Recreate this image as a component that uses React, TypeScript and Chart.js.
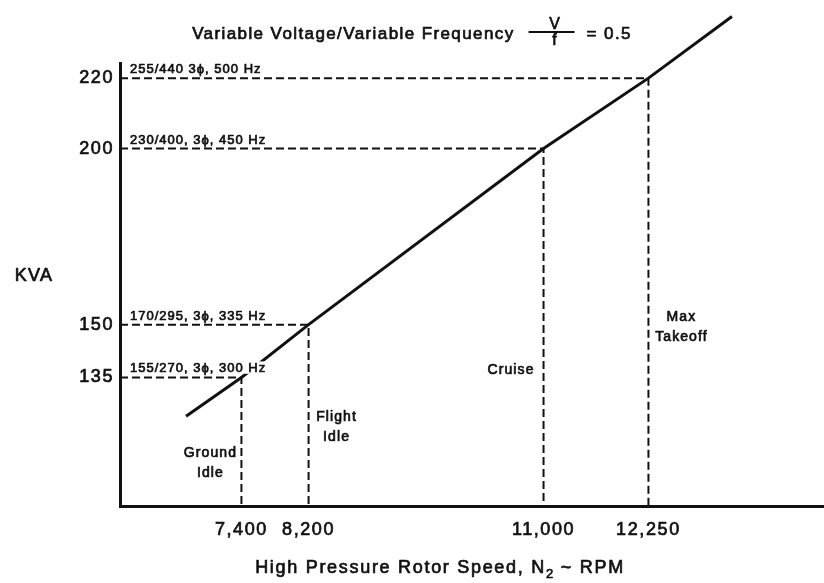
import React, { useEffect, useRef } from 'react';
import { Chart, registerables } from 'chart.js';

Chart.register(...registerables);

// ---- data ----
const operatingRpm = [7400, 8200, 11000, 12250];
const operatingKva = [135, 150, 200, 220];
const lineEndRpm = [6740, 13245];
const lineEndKva = [124, 237.5];
const electricalLabels = [
  '155/270, 3\u03d5, 300 Hz',
  '170/295, 3\u03d5, 335 Hz',
  '230/400, 3\u03d5, 450 Hz',
  '255/440 3\u03d5, 500 Hz',
];
const regimeLabels = [['Ground', 'Idle'], ['Flight', 'Idle'], ['Cruise'], ['Max', 'Takeoff']];
const xTickValues = [7400, 8200, 11000, 12250];
const xTickLabels = ['7,400', '8,200', '11,000', '12,250'];
const yTickValues = [135, 150, 200, 220];
const yTickLabels = ['135', '150', '200', '220'];

// axis ranges
const X_MIN = 5953;
const X_MAX = 14342;
const Y_MIN = 98.5;
const Y_MAX = 224.3;

const FONT = '"Liberation Sans", Arial, Helvetica, sans-serif';
const INK = '#111';
const STROKE = 0.7;

function drawSpaced(
  ctx: CanvasRenderingContext2D,
  text: string,
  x: number,
  y: number,
  size: number,
  align: CanvasTextAlign,
  spacing: number,
  whiteBg = false
) {
  ctx.save();
  ctx.font = `${size}px ${FONT}`;
  (ctx as any).letterSpacing = `${spacing}px`;
  ctx.textAlign = align;
  ctx.textBaseline = 'alphabetic';
  if (whiteBg) {
    const w = ctx.measureText(text).width;
    let left = x;
    if (align === 'center') left = x - w / 2;
    else if (align === 'right' || align === 'end') left = x - w;
    ctx.fillStyle = '#fff';
    ctx.fillRect(left - 2, y - size * 0.85, w + 4, size * 0.95);
  }
  ctx.fillStyle = INK;
  ctx.strokeStyle = INK;
  ctx.lineWidth = STROKE;
  ctx.lineJoin = 'round';
  ctx.fillText(text, x, y);
  ctx.strokeText(text, x, y);
  ctx.restore();
}

function measure(ctx: CanvasRenderingContext2D, text: string, size: number, spacing: number) {
  ctx.save();
  ctx.font = `${size}px ${FONT}`;
  (ctx as any).letterSpacing = `${spacing}px`;
  const w = ctx.measureText(text).width;
  ctx.restore();
  return w;
}

const textPlugin = {
  id: 'schematicText',
  beforeDraw(chart: any) {
    (chart.ctx as any).letterSpacing = '1.6px';
  },
  afterDatasetsDraw(chart: any) {
    const ctx: CanvasRenderingContext2D = chart.ctx;
    const xs = chart.scales.x;
    const ys = chart.scales.y;
    const area = chart.chartArea;
    operatingKva.forEach((kva, i) => {
      const py = ys.getPixelForValue(kva);
      drawSpaced(ctx, electricalLabels[i], area.left + 10, py - 5, 13, 'left', 1.0, true);
    });
    const b = area.bottom;
    const xg = xs.getPixelForValue(operatingRpm[0]);
    drawSpaced(ctx, regimeLabels[0][0], xg - 31, b - 49, 14, 'center', 1.1);
    drawSpaced(ctx, regimeLabels[0][1], xg - 31, b - 29, 14, 'center', 1.1);
    const xf = xs.getPixelForValue(operatingRpm[1]);
    drawSpaced(ctx, regimeLabels[1][0], xf + 28, b - 85, 14, 'center', 1.1);
    drawSpaced(ctx, regimeLabels[1][1], xf + 28, b - 65, 14, 'center', 1.1);
    const xc = xs.getPixelForValue(operatingRpm[2]);
    drawSpaced(ctx, regimeLabels[2][0], xc - 9, b - 132, 14, 'right', 1.1);
    const xm = xs.getPixelForValue(operatingRpm[3]);
    drawSpaced(ctx, regimeLabels[3][0], xm + 33, b - 185, 14, 'center', 1.1);
    drawSpaced(ctx, regimeLabels[3][1], xm + 33, b - 165, 14, 'center', 1.1);
  },
  afterDraw(chart: any) {
    const ctx: CanvasRenderingContext2D = chart.ctx;
    const area = chart.chartArea;
    // Title with V/f fraction
    const t1 = 'Variable Voltage/Variable Frequency';
    const t3 = '= 0.5';
    const w1 = measure(ctx, t1, 17, 1.4);
    const w3 = measure(ctx, t3, 17, 1.4);
    const fracW = 46;
    const total = w1 + 14 + fracW + 12 + w3;
    const sx = chart.width / 2 - total / 2;
    drawSpaced(ctx, t1, sx, 39, 17, 'left', 1.4);
    const fx = sx + w1 + 14;
    ctx.save();
    ctx.strokeStyle = INK;
    ctx.lineWidth = 2;
    ctx.beginPath();
    ctx.moveTo(fx, 32);
    ctx.lineTo(fx + fracW, 32);
    ctx.stroke();
    ctx.restore();
    drawSpaced(ctx, 'V', fx + fracW / 2 + 3, 29, 16, 'center', 0);
    drawSpaced(ctx, 'f', fx + fracW / 2 + 3, 45, 16, 'center', 0);
    drawSpaced(ctx, t3, fx + fracW + 12, 39, 17, 'left', 1.4);

    // Y axis title (horizontal)
    drawSpaced(ctx, 'KVA', 34, 281, 18, 'center', 1.2);

    // X axis title with subscript
    const a = 'High Pressure Rotor Speed, N';
    const s = '2';
    const c = ' ~ RPM';
    const wa = measure(ctx, a, 18, 1.7);
    const ws = measure(ctx, s, 13, 1);
    const wc = measure(ctx, c, 18, 1.7);
    const cx = area.left + 320;
    const start = cx - (wa + ws + wc) / 2;
    drawSpaced(ctx, a, start, 573, 18, 'left', 1.7);
    drawSpaced(ctx, s, start + wa, 578, 13, 'left', 1);
    drawSpaced(ctx, c, start + wa + ws, 573, 18, 'left', 1.7);
    (ctx as any).letterSpacing = '0px';
  },
};

export default function App() {
  const ref = useRef<HTMLCanvasElement | null>(null);

  useEffect(() => {
    if (!ref.current) return;
    document.body.style.margin = '0';

    const mainLine = [
      { x: lineEndRpm[0], y: lineEndKva[0] },
      ...operatingRpm.map((r, i) => ({ x: r, y: operatingKva[i] })),
      { x: lineEndRpm[1], y: lineEndKva[1] },
    ];

    const dashed = operatingRpm.map((r, i) => ({
      data: [
        { x: X_MIN, y: operatingKva[i] },
        { x: r, y: operatingKva[i] },
        { x: r, y: Y_MIN },
      ],
      showLine: true,
      borderColor: INK,
      borderWidth: 2,
      borderDash: [8, 4],
      pointRadius: 0,
      fill: false,
      tension: 0,
      clip: false as any,
    }));

    const tickFont = { family: FONT, size: 18 };

    const chart = new Chart(ref.current, {
      type: 'scatter',
      data: {
        datasets: [
          {
            data: mainLine,
            showLine: true,
            borderColor: INK,
            borderWidth: 3,
            pointRadius: 0,
            fill: false,
            tension: 0,
            clip: false as any,
          },
          ...dashed,
        ] as any,
      },
      options: {
        responsive: false,
        animation: false,
        devicePixelRatio: 1,
        layout: { padding: { top: 63, right: 0, bottom: 0, left: 0 } },
        plugins: {
          legend: { display: false },
          tooltip: { enabled: false },
          title: { display: false },
        },
        scales: {
          x: {
            type: 'linear',
            min: X_MIN,
            max: X_MAX,
            grid: { display: false, drawTicks: false },
            border: { display: true, color: INK, width: 3 },
            afterBuildTicks: (scale: any) => {
              scale.ticks = xTickValues.map((v) => ({ value: v }));
            },
            afterFit: (scale: any) => {
              scale.height = 77;
              scale.paddingLeft = 0;
              scale.paddingRight = 0;
            },
            ticks: {
              autoSkip: false,
              maxRotation: 0,
              padding: 13,
              color: INK,
              textStrokeColor: INK,
              textStrokeWidth: STROKE,
              font: tickFont,
              callback: (value: any) => {
                const i = xTickValues.indexOf(Number(value));
                return i >= 0 ? xTickLabels[i] : '';
              },
            },
          },
          y: {
            type: 'linear',
            min: Y_MIN,
            max: Y_MAX,
            grid: { display: false, drawTicks: false },
            border: { display: true, color: INK, width: 3 },
            afterBuildTicks: (scale: any) => {
              scale.ticks = yTickValues.map((v) => ({ value: v }));
            },
            afterFit: (scale: any) => {
              scale.width = 120;
              scale.paddingTop = 0;
              scale.paddingBottom = 0;
            },
            ticks: {
              autoSkip: false,
              padding: 6,
              color: INK,
              textStrokeColor: INK,
              textStrokeWidth: STROKE,
              font: tickFont,
              callback: (value: any) => {
                const i = yTickValues.indexOf(Number(value));
                return i >= 0 ? yTickLabels[i] : '';
              },
            },
          },
        },
      } as any,
      plugins: [textPlugin as any],
    });

    return () => chart.destroy();
  }, []);

  return (
    <div style={{ position: 'fixed', left: 0, top: 0, width: 824, height: 583, background: '#fff' }}>
      <canvas ref={ref} width={824} height={583} style={{ display: 'block' }} />
    </div>
  );
}
